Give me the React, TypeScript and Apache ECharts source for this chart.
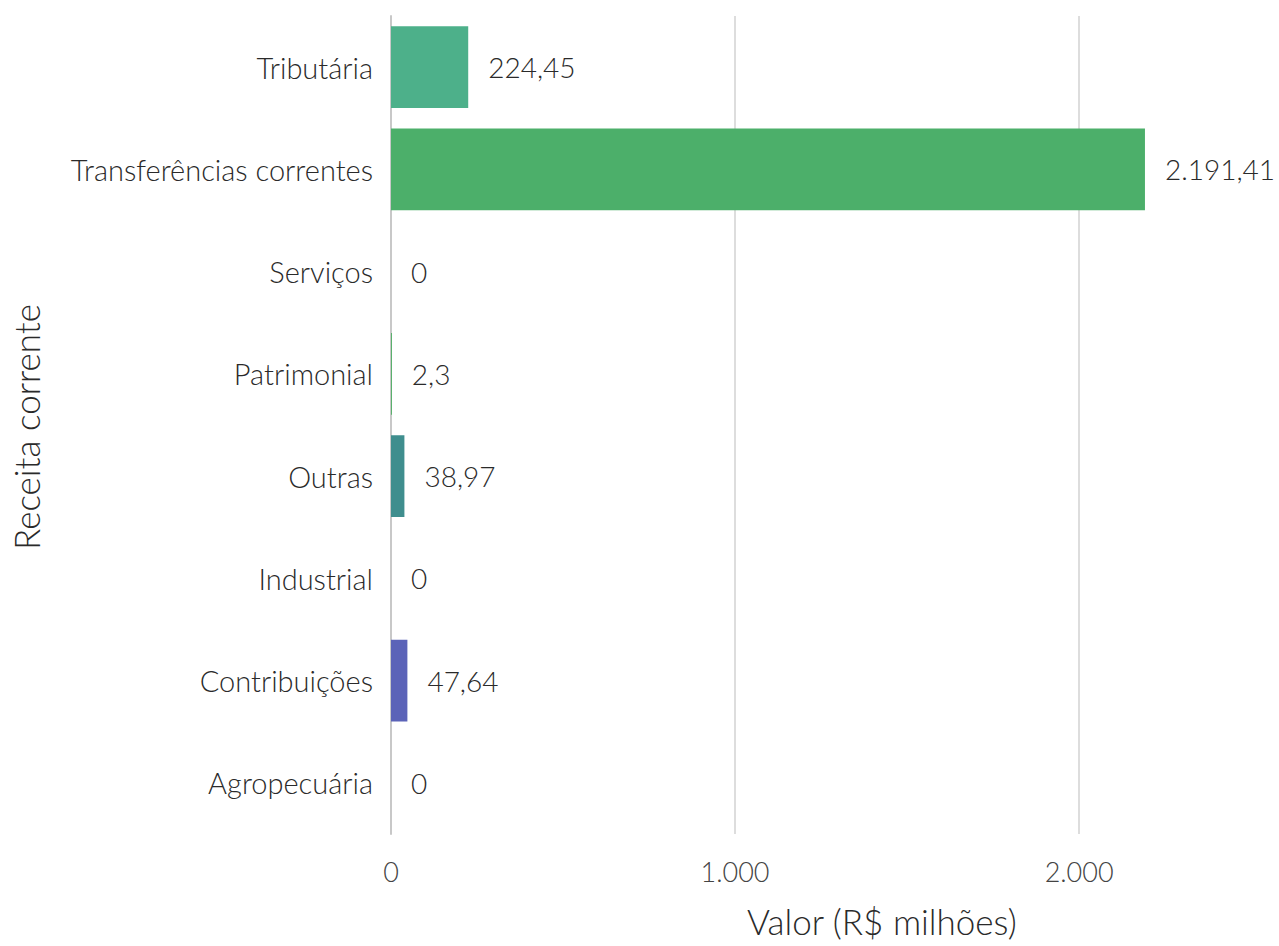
import React, { useEffect, useRef } from "react";
import * as echarts from "echarts";

const categories = [
  "Tributária",
  "Transferências correntes",
  "Serviços",
  "Patrimonial",
  "Outras",
  "Industrial",
  "Contribuições",
  "Agropecuária",
];
const values = [224.45, 2191.41, 0, 2.3, 38.97, 0, 47.64, 0];
const colors = [
  "#4DB08A",
  "#4CAF6A",
  "#6CBF5A",
  "#3DAA55",
  "#3F8E8E",
  "#4A7BA8",
  "#5B63B8",
  "#5E4FA2",
];
const xTicks = [0, 1000, 2000];
const xTitle = "Valor (R$ milhões)";
const yTitle = "Receita corrente";

const fmt = (v: number) =>
  v.toLocaleString("pt-BR", { maximumFractionDigits: 2 });

const FONT = "'Lato Light', Lato";
const TXT = "#2a2a2a";

export default function App() {
  const ref = useRef<HTMLDivElement>(null);
  useEffect(() => {
    if (!ref.current) return;
    const chart = echarts.init(ref.current, null, { renderer: "svg" });
    chart.setOption({
      animation: false,
      backgroundColor: "#ffffff",
      textStyle: { fontFamily: FONT, fontWeight: 300 },
      grid: { left: 391, right: 0, top: 16, bottom: 112, containLabel: false },
      xAxis: {
        type: "value",
        min: 0,
        max: 2581,
        interval: 1000,
        axisLine: { show: false },
        axisTick: { show: false },
        splitLine: {
          show: true,
          showMaxLine: false,
          lineStyle: { color: "#dddddd", width: 2 },
        },
        axisLabel: {
          showMaxLabel: false,
          color: "#444444",
          fontSize: 27,
          fontFamily: FONT,
          fontWeight: 300,
          margin: 24,
          formatter: (v: number) => (xTicks.includes(v) ? fmt(v) : ""),
        },
      },
      yAxis: {
        type: "category",
        inverse: true,
        data: categories,
        axisLine: { show: true, lineStyle: { color: "#c8c8c8", width: 2 } },
        axisTick: { show: false },
        splitLine: { show: false },
        axisLabel: {
          color: TXT,
          fontSize: 29,
          fontFamily: FONT,
          fontWeight: 300,
          margin: 18,
        },
      },
      series: [
        {
          type: "bar",
          data: values.map((v, i) => ({
            value: v,
            itemStyle: { color: colors[i] },
          })),
          barWidth: "80%",
          label: {
            show: true,
            position: "right",
            distance: 20,
            color: TXT,
            fontSize: 28,
            fontFamily: FONT,
            fontWeight: 300,
            formatter: (p: any) => fmt(p.value),
          },
        },
      ],
      graphic: [
        {
          type: "text",
          left: 747,
          top: 903,
          style: {
            text: xTitle,
            fontSize: 35,
            fontFamily: FONT,
            fontWeight: 300,
            fill: TXT,
          },
        },
        {
          type: "text",
          x: 8,
          y: 550,
          rotation: Math.PI / 2,
          style: {
            text: yTitle,
            fontSize: 35,
            fontFamily: FONT,
            fontWeight: 300,
            fill: TXT,
          },
        },
      ],
    });
    return () => chart.dispose();
  }, []);
  return (
    <div
      ref={ref}
      style={{ position: "absolute", left: 0, top: 0, width: 1279, height: 946 }}
    />
  );
}
